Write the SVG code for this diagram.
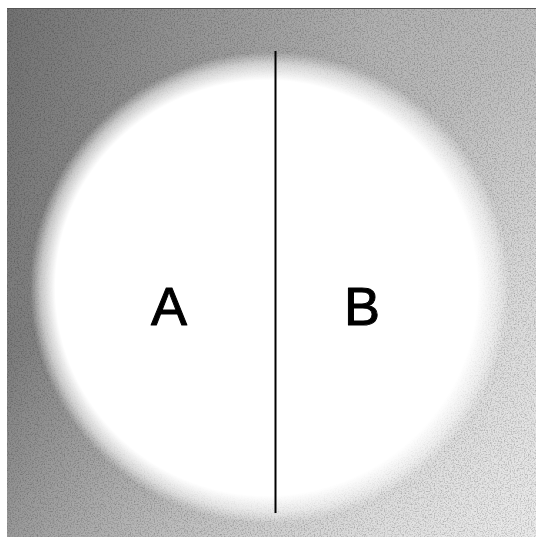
<svg xmlns="http://www.w3.org/2000/svg" width="536" height="537" viewBox="0 0 536 537">
  <defs>
    <linearGradient id="bgH" x1="0" y1="0" x2="1" y2="0">
      <stop offset="0" stop-color="#7c7c7c"/>
      <stop offset="0.35" stop-color="#a0a0a0"/>
      <stop offset="0.7" stop-color="#c0c0c0"/>
      <stop offset="1" stop-color="#cccccc"/>
    </linearGradient>
    <linearGradient id="bgD" x1="1" y1="1" x2="0.6" y2="0.3">
      <stop offset="0" stop-color="#ffffff" stop-opacity="0.6"/>
      <stop offset="1" stop-color="#ffffff" stop-opacity="0"/>
    </linearGradient>
    <linearGradient id="bgT" x1="0" y1="0" x2="0" y2="1">
      <stop offset="0" stop-color="#000000" stop-opacity="0.08"/>
      <stop offset="0.5" stop-color="#000000" stop-opacity="0"/>
    </linearGradient>
    <radialGradient id="disk" cx="0.5" cy="0.5" r="0.5" fx="0.44" fy="0.5">
      <stop offset="0" stop-color="#ffffff" stop-opacity="1"/>
      <stop offset="0.88" stop-color="#ffffff" stop-opacity="1"/>
      <stop offset="0.95" stop-color="#ffffff" stop-opacity="0.55"/>
      <stop offset="1" stop-color="#ffffff" stop-opacity="0"/>
    </radialGradient>
    <filter id="noise" x="0" y="0" width="100%" height="100%">
      <feTurbulence type="fractalNoise" baseFrequency="0.7" numOctaves="2" seed="4" result="t"/>
      <feColorMatrix in="t" type="matrix" values="0 0 0 0 0  0 0 0 0 0  0 0 0 0 0  1.6 0 0 0 -0.7" result="n"/>
      <feComposite in="n" in2="SourceGraphic" operator="in"/>
    </filter>
    <style>
      .lbl { font-family: "Liberation Sans", Arial, sans-serif; font-size: 54px; fill: #000; stroke: #000; stroke-width: 1px; stroke-linejoin: round; text-anchor: middle; }
    </style>
  </defs>
  <rect x="0" y="0" width="536" height="537" fill="#ffffff"/>
  <g id="background">
    <rect x="7" y="8" width="529" height="529" fill="url(#bgH)"/>
    <rect x="7" y="8" width="529" height="529" fill="url(#bgD)"/>
    <rect x="7" y="8" width="529" height="529" fill="url(#bgT)"/>
    <rect x="7" y="8" width="529" height="529" fill="#000" opacity="0.35" filter="url(#noise)"/>
    <line x1="7" y1="8.5" x2="536" y2="8.5" stroke="#555" stroke-width="1"/>
  </g>
  <g id="dish">
    <ellipse cx="270" cy="288" rx="240" ry="236" fill="url(#disk)"/>
  </g>
  <g id="divider">
    <line x1="275.5" y1="51" x2="275.5" y2="513" stroke="#000" stroke-width="2"/>
  </g>
  <g id="label-a"><text class="lbl" x="169" y="325">A</text></g>
  <g id="label-b"><text class="lbl" x="362" y="325">B</text></g>
</svg>
